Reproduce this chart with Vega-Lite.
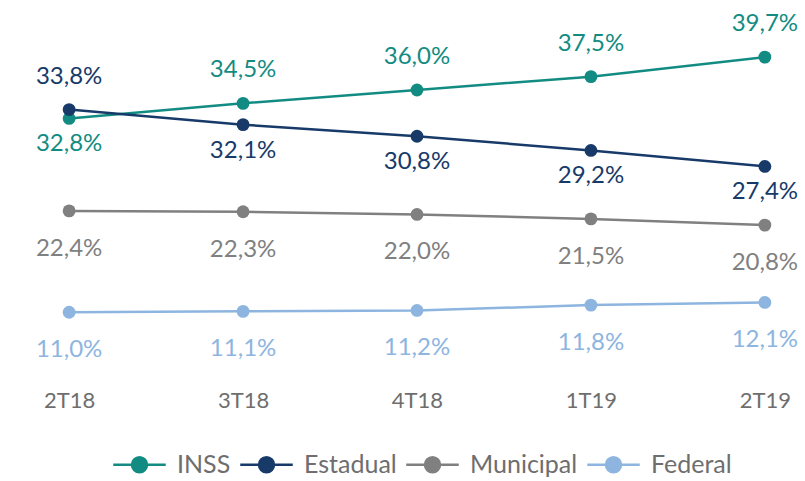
{
  "$schema": "https://vega.github.io/schema/vega-lite/v6.json",
  "autosize": {"type": "none"},
  "width": 774,
  "height": 400,
  "padding": {"left": 30, "top": 10, "right": 1, "bottom": 71},
  "background": "white",
  "config": {"view": {"stroke": null}, "font": "Lato"},
  "data": {"values": [
    {"t": "2T18", "s": "INSS", "v": 32.8, "pos": "below"},
    {"t": "3T18", "s": "INSS", "v": 34.5, "pos": "above"},
    {"t": "4T18", "s": "INSS", "v": 36.0, "pos": "above"},
    {"t": "1T19", "s": "INSS", "v": 37.5, "pos": "above"},
    {"t": "2T19", "s": "INSS", "v": 39.7, "pos": "above"},
    {"t": "2T18", "s": "Estadual", "v": 33.8, "pos": "above"},
    {"t": "3T18", "s": "Estadual", "v": 32.1, "pos": "below"},
    {"t": "4T18", "s": "Estadual", "v": 30.8, "pos": "below"},
    {"t": "1T19", "s": "Estadual", "v": 29.2, "pos": "below"},
    {"t": "2T19", "s": "Estadual", "v": 27.4, "pos": "below"},
    {"t": "2T18", "s": "Municipal", "v": 22.4, "pos": "below"},
    {"t": "3T18", "s": "Municipal", "v": 22.3, "pos": "below"},
    {"t": "4T18", "s": "Municipal", "v": 22.0, "pos": "below"},
    {"t": "1T19", "s": "Municipal", "v": 21.5, "pos": "below"},
    {"t": "2T19", "s": "Municipal", "v": 20.8, "pos": "below"},
    {"t": "2T18", "s": "Federal", "v": 11.0, "pos": "below"},
    {"t": "3T18", "s": "Federal", "v": 11.1, "pos": "below"},
    {"t": "4T18", "s": "Federal", "v": 11.2, "pos": "below"},
    {"t": "1T19", "s": "Federal", "v": 11.8, "pos": "below"},
    {"t": "2T19", "s": "Federal", "v": 12.1, "pos": "below"}
  ]},
  "encoding": {
    "x": {"field": "t", "type": "ordinal", "sort": ["2T18", "3T18", "4T18", "1T19", "2T19"],
      "scale": {"type": "point", "padding": 0.225},
      "axis": {"title": null, "domain": false, "ticks": false, "grid": false, "labelAngle": 0,
        "labelFont": "Lato", "labelFontSize": 22, "labelColor": "#6E6E6E", "offset": -10,
        "labelBaseline": "middle", "labelPadding": 0}},
    "y": {"field": "v", "type": "quantitative", "scale": {"domain": [0, 45], "nice": false},
      "axis": null},
    "color": {"field": "s", "type": "nominal",
      "scale": {"domain": ["INSS", "Estadual", "Municipal", "Federal"],
        "range": ["#128C82", "#173A69", "#808080", "#8DB5E0"]},
      "legend": {"title": null, "orient": "none", "direction": "horizontal", "columns": 4,
        "legendX": 97, "legendY": 442,
        "symbolType": "M-3.5,0H3.5M1,0A1,1 0 1,1 -1,0A1,1 0 1,1 1,0Z",
        "symbolSize": 225, "symbolStrokeWidth": 2.5,
        "labelFont": "Lato", "labelFontSize": 25, "labelColor": "#6E6E6E",
        "labelOffset": 25, "columnPadding": 4}}
  },
  "layer": [
    {"mark": {"type": "line", "strokeWidth": 2.5}},
    {"mark": {"type": "point", "filled": true, "size": 165, "opacity": 1}},
    {"transform": [{"filter": "datum.pos === 'above'"}],
      "mark": {"type": "text", "fontSize": 24, "font": "Lato", "dy": -33, "baseline": "middle",
        "text": {"expr": "replace(format(datum.v, '.1f'), '.', ',') + '%'"}}},
    {"transform": [{"filter": "datum.pos === 'below' && (datum.s === 'INSS' || datum.s === 'Estadual')"}],
      "mark": {"type": "text", "fontSize": 24, "font": "Lato", "dy": 26, "baseline": "middle",
        "text": {"expr": "replace(format(datum.v, '.1f'), '.', ',') + '%'"}}},
    {"transform": [{"filter": "datum.s === 'Municipal' || datum.s === 'Federal'"}],
      "mark": {"type": "text", "fontSize": 24, "font": "Lato", "dy": 38, "baseline": "middle",
        "text": {"expr": "replace(format(datum.v, '.1f'), '.', ',') + '%'"}}}
  ]
}
